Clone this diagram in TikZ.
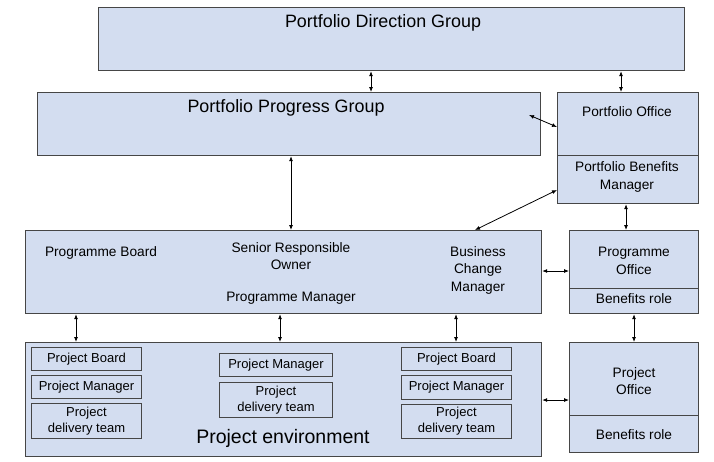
\documentclass[tikz,border=0pt]{standalone}
\usepackage{fontspec}
\setmainfont{Liberation Sans}
\usetikzlibrary{arrows.meta,calc}
\definecolor{boxfill}{RGB}{211,221,240}
\definecolor{boxline}{RGB}{70,70,70}
\tikzset{
  box/.style={draw=boxline, line width=1.2pt, fill=boxfill, anchor=north west, inner sep=0pt},
  inbox/.style={draw=boxline, line width=0.9pt, fill=boxfill, anchor=north west, inner sep=0pt, align=center, font=\fontsize{13}{16}\selectfont},
  lbl/.style={align=center, inner sep=0pt, font=\fontsize{13.7}{17.5}\selectfont},
  big/.style={align=center, inner sep=0pt, font=\fontsize{17.9}{20}\selectfont},
  arr/.style={{Latex[length=5pt,width=4pt]}-{Latex[length=5pt,width=4pt]}, line width=0.8pt, black},
}
\begin{document}
\begin{tikzpicture}[x=1pt,y=-1pt]
\useasboundingbox (0,0) rectangle (714,461);
% top level
\node[box, minimum width=586pt, minimum height=63pt] (pdg) at (98,7) {};
\node[big] (pdgt) at (383,23) {Portfolio Direction Group};
\node[box, minimum width=503pt, minimum height=63pt] (ppg) at (37,92) {};
\node[big] (ppgt) at (286,108) {Portfolio Progress Group};
\node[box, minimum width=141pt, minimum height=63pt] (po) at (557,92) {};
\node[box, minimum width=141pt, minimum height=48pt] (pbm) at (557,155) {};
\node[lbl] (pot) at (627,112) {Portfolio Office};
\node[lbl] (pbmt) at (627,177) {Portfolio Benefits\\Manager};
% programme level
\node[box, minimum width=516pt, minimum height=83pt] (prog) at (25,230) {};
\node[lbl] (pbt) at (101,253) {Programme Board};
\node[lbl] (srot) at (291,256) {Senior Responsible\\Owner};
\node[lbl] (pmt) at (291,298) {Programme Manager};
\node[lbl] (bcmt) at (478,270) {Business\\Change\\Manager};
\node[box, minimum width=129pt, minimum height=58pt] (pgo) at (569,230) {};
\node[box, minimum width=129pt, minimum height=25pt] (pgob) at (569,288) {};
\node[lbl] (pgot) at (634,261) {Programme\\Office};
\node[lbl] (pgobt) at (634,299) {Benefits role};
% project level
\node[box, minimum width=516pt, minimum height=114pt] (env) at (25,342) {};
\node[font=\fontsize{19.5}{21}\selectfont, inner sep=0pt] (envt) at (283,438) {Project environment};
\node[box, minimum width=129pt, minimum height=73pt] (pjo) at (569,342) {};
\node[box, minimum width=129pt, minimum height=37pt] (pjob) at (569,415) {};
\node[lbl] (pjot) at (634,381) {Project\\Office};
\node[lbl] (pjobt) at (634,435) {Benefits role};
% inner boxes
\node[inbox, minimum width=110pt, minimum height=23pt] (lb) at (31,347) {Project Board};
\node[inbox, minimum width=110pt, minimum height=23pt] (lm) at (31,375) {Project Manager};
\node[inbox, minimum width=110pt, minimum height=35pt] (ld) at (31,403) {Project\\delivery team};
\node[inbox, minimum width=113pt, minimum height=23pt] (mm) at (219,353) {Project Manager};
\node[inbox, minimum width=113pt, minimum height=35pt] (md) at (219,382) {Project\\delivery team};
\node[inbox, minimum width=110pt, minimum height=23pt] (rb) at (401,347) {Project Board};
\node[inbox, minimum width=110pt, minimum height=24pt] (rm) at (401,375) {Project Manager};
\node[inbox, minimum width=110pt, minimum height=34pt] (rd) at (401,404) {Project\\delivery team};
% connectors
\draw[arr] (371,0 |- pdg.south) -- (371,0 |- ppg.north);
\draw[arr] (621,0 |- pdg.south) -- (621,0 |- po.north);
\coordinate (ppgr) at (529,115);
\draw[arr] (ppgr) -- (po.west |- 0,127);
\draw[arr] (291,0 |- ppg.south) -- (291,0 |- prog.north);
\coordinate (progtr) at (475,230);
\draw[arr] (progtr) -- (pbm.west |- 0,190);
\draw[arr] (626,0 |- pbm.south) -- (626,0 |- pgo.north);
\draw[arr] (prog.east |- 0,271) -- (pgo.west |- 0,271);
\draw[arr] (76,0 |- prog.south) -- (76,0 |- env.north);
\draw[arr] (280,0 |- prog.south) -- (280,0 |- env.north);
\draw[arr] (456,0 |- prog.south) -- (456,0 |- env.north);
\draw[arr] (634,0 |- pgob.south) -- (634,0 |- pjo.north);
\draw[arr] (env.east |- 0,400) -- (pjo.west |- 0,400);
\end{tikzpicture}
\end{document}
